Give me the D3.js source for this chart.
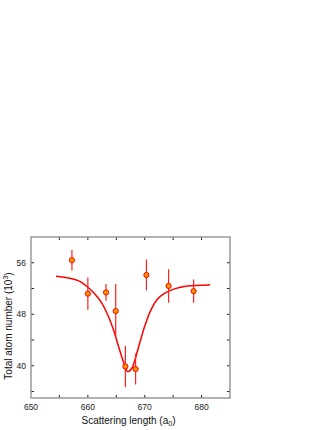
<!DOCTYPE html>
<html lang="en">
<head>
  <meta charset="UTF-8" />
  <title>Total atom number vs scattering length</title>
  <script src="https://d3js.org/d3.v7.min.js"></script>
  <style>
    body { margin: 0; background: #fff; }
    svg { display: block; font-family: "Liberation Sans", Arial, sans-serif; }
    .frame { fill: none; stroke: #999; stroke-width: 1.5; }
    .tick-line { stroke: #222; stroke-width: 1; }
    .tick-label { font-size: 8.5px; fill: #222; }
    .title { font-size: 10px; fill: #111; }
  </style>
</head>
<body>

<svg id="chart" width="332" height="430"></svg>

<script>
/* ---------------- DATA ---------------- */

// measured points: scattering length (a0), atom number (10^3), error
const pointX   = [657.2, 660.0, 663.2, 664.9, 666.6, 668.4, 670.3, 674.2, 678.6];
const pointY   = [56.4, 51.2, 51.4, 48.5, 39.9, 39.5, 54.1, 52.4, 51.6];
const pointErr = [1.6, 2.5, 1.3, 4.2, 3.2, 2.4, 2.4, 2.6, 1.8];

// fit curve
const fitX = [654.4, 656.8, 658.6, 660.0, 661.2, 662.4, 663.6, 664.5, 665.4, 666.3,
              667.0, 667.8, 668.3, 669.2, 670.1, 671.0, 672.2, 673.4, 675.1, 677.5, 679.9, 681.5];
const fitY = [53.9, 53.6, 53.1, 52.2, 51.2, 49.8, 47.7, 45.6, 43.0, 40.5,
              39.1, 39.7, 41.0, 43.8, 46.4, 48.5, 50.3, 51.2, 51.9, 52.4, 52.5, 52.6];

const xTicks = [650, 655, 660, 665, 670, 675, 680, 685];
const xLabels = [650, 660, 670, 680];
const yTicks = [36, 40, 44, 48, 52, 56, 60];
const yLabels = [40, 48, 56];

/* ---------------- SETUP ---------------- */

const svg = d3.select("#chart");
const mLeft = 31, mRight = 230, mTop = 237, mBottom = 398;

const x = d3.scaleLinear().domain([650, 685]).range([mLeft, mRight]);
const y = d3.scaleLinear().domain([35, 60]).range([mBottom, mTop]);

/* ---------------- AXES ---------------- */

const tickLen = 3;

const xt = svg.append("g").selectAll("g")
  .data(xTicks.filter(t => t > 650 && t < 685))
  .join("g");
xt.append("line").attr("class", "tick-line")
  .attr("x1", d => x(d)).attr("x2", d => x(d))
  .attr("y1", mBottom).attr("y2", mBottom - tickLen);
xt.append("line").attr("class", "tick-line")
  .attr("x1", d => x(d)).attr("x2", d => x(d))
  .attr("y1", mTop).attr("y2", mTop + tickLen);

const yt = svg.append("g").selectAll("g")
  .data(yTicks.filter(t => t > 35 && t < 60))
  .join("g");
yt.append("line").attr("class", "tick-line")
  .attr("x1", mLeft).attr("x2", mLeft + tickLen)
  .attr("y1", d => y(d)).attr("y2", d => y(d));
yt.append("line").attr("class", "tick-line")
  .attr("x1", mRight).attr("x2", mRight - tickLen)
  .attr("y1", d => y(d)).attr("y2", d => y(d));

svg.append("rect").attr("class", "frame")
  .attr("x", mLeft).attr("y", mTop)
  .attr("width", mRight - mLeft).attr("height", mBottom - mTop);

svg.selectAll(".xlab")
  .data(xLabels)
  .join("text")
  .attr("class", "tick-label")
  .attr("x", d => x(d))
  .attr("y", mBottom + 11.5)
  .attr("text-anchor", "middle")
  .text(d => d);

svg.selectAll(".ylab")
  .data(yLabels)
  .join("text")
  .attr("class", "tick-label")
  .attr("x", mLeft - 5)
  .attr("y", d => y(d) + 3)
  .attr("text-anchor", "end")
  .text(d => d);

const xTitle = svg.append("text").attr("class", "title")
  .attr("x", (mLeft + mRight) / 2 - 2)
  .attr("y", mBottom + 26)
  .attr("text-anchor", "middle")
  .text("Scattering length (a");
xTitle.append("tspan").attr("font-size", "7px").attr("dy", 2).text("0");
xTitle.append("tspan").attr("dy", -2).text(")");

const yTitle = svg.append("text").attr("class", "title")
  .attr("transform", "translate(12, 326) rotate(-90)")
  .attr("text-anchor", "middle")
  .text("Total atom number (10");
yTitle.append("tspan").attr("font-size", "7px").attr("dy", -4).text("3");
yTitle.append("tspan").attr("dy", 4).text(")");

/* ---------------- FIT CURVE ---------------- */

const fit = fitX.map((v, i) => [v, fitY[i]]);

svg.append("path")
  .datum(fit)
  .attr("fill", "none")
  .attr("stroke", "#ff0000")
  .attr("stroke-width", 1.5)
  .attr("d", d3.line().x(d => x(d[0])).y(d => y(d[1])).curve(d3.curveCatmullRom));

/* ---------------- POINTS ---------------- */

const pts = pointX.map((v, i) => ({ x: v, y: pointY[i], e: pointErr[i] }));

svg.selectAll(".err")
  .data(pts)
  .join("line")
  .attr("stroke", "#ff2020")
  .attr("stroke-width", 1.2)
  .attr("x1", d => x(d.x)).attr("x2", d => x(d.x))
  .attr("y1", d => y(d.y - d.e)).attr("y2", d => y(d.y + d.e));

svg.selectAll(".pt")
  .data(pts)
  .join("circle")
  .attr("cx", d => x(d.x))
  .attr("cy", d => y(d.y))
  .attr("r", 2.6)
  .attr("fill", "#ff9900")
  .attr("stroke", "#ff0000")
  .attr("stroke-width", 1);
</script>

</body>
</html>
